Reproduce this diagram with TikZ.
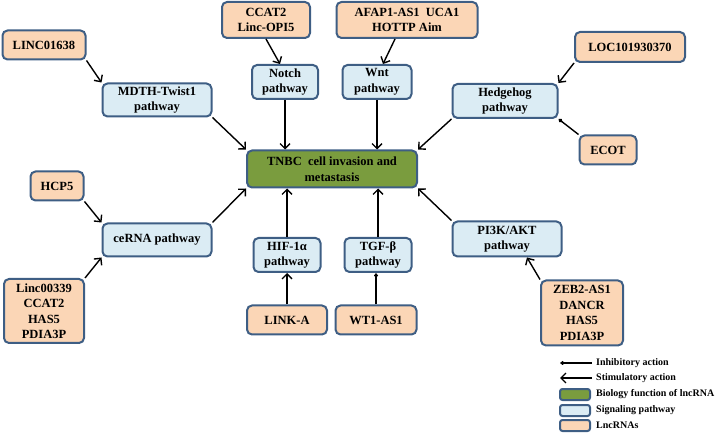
\documentclass[tikz,border=0pt]{standalone}
\usepackage{fontspec}
\setmainfont{Liberation Serif}
\usetikzlibrary{arrows.meta}

\definecolor{edgeblue}{RGB}{62,94,132}
\definecolor{lncorange}{RGB}{251,214,182}
\definecolor{pathblue}{RGB}{219,236,244}
\definecolor{biogreen}{RGB}{122,156,62}

\begin{document}
\begin{tikzpicture}[
            x=1pt, y=-1pt,
            box/.style={rectangle,rounded corners=5pt,draw=edgeblue,line width=2pt,align=center,inner sep=2pt,
                        font=\fontsize{12.5}{15.5}\selectfont\bfseries},
            lnc node/.style={box,fill=lncorange},
            path node/.style={box,fill=pathblue},
            bio node/.style={box,fill=biogreen},
            every edge/.style={draw,line width=1.4pt,-{Straight Barb[length=5pt,width=10pt,line width=1.4pt]}},
            inhib/.style={-{Diamond[length=5pt,width=4pt]}},
            key text/.style={anchor=west,inner sep=0pt,font=\fontsize{10}{12}\selectfont\bfseries},
        ]
            \useasboundingbox (0,0) rectangle (720,435);

            % centre
            \node[bio node, minimum width=170pt, minimum height=37pt] (tnbc) at (332,169) {TNBC\ \ cell invasion and\\metastasis};

            % signaling pathways
            \node[path node, minimum width=109pt, minimum height=33pt] (mdth) at (157,100) {MDTH-Twist1\\pathway};
            \node[path node, minimum width=66pt, minimum height=34pt] (notch) at (285,82) {Notch\\pathway};
            \node[path node, minimum width=69pt, minimum height=34pt] (wnt) at (377,82) {Wnt\\pathway};
            \node[path node, minimum width=105pt, minimum height=34pt] (hedgehog) at (505,101) {Hedgehog\\pathway};
            \node[path node, minimum width=109pt, minimum height=33pt] (cerna) at (157,240) {ceRNA pathway};
            \node[path node, minimum width=67pt, minimum height=34pt] (hif) at (287,255) {HIF-1α\\pathway};
            \node[path node, minimum width=67pt, minimum height=34pt] (tgf) at (378,255) {TGF-β\\pathway};
            \node[path node, minimum width=109pt, minimum height=35pt] (pi3k) at (507,239) {PI3K/AKT\\pathway};

            % lncRNAs
            \node[lnc node, minimum width=83pt, minimum height=29pt] (linc01638) at (44,45) {LINC01638};
            \node[lnc node, minimum width=88pt, minimum height=36pt] (ccat2) at (266,20) {CCAT2\\Linc-OPI5};
            \node[lnc node, minimum width=141pt, minimum height=36pt] (afap1) at (407,20) {AFAP1-AS1\ \ UCA1\\HOTTP Aim};
            \node[lnc node, minimum width=110pt, minimum height=30pt] (loc) at (630,47) {LOC101930370};
            \node[lnc node, minimum width=57pt, minimum height=29pt] (ecot) at (608,150) {ECOT};
            \node[lnc node, minimum width=53pt, minimum height=29pt] (hcp5) at (57,186) {HCP5};
            \node[lnc node, minimum width=80pt, minimum height=64pt] (linc00339) at (44,311) {Linc00339\\CCAT2\\HAS5\\PDIA3P};
            \node[lnc node, minimum width=80pt, minimum height=29pt] (linka) at (287,320) {LINK-A};
            \node[lnc node, minimum width=81pt, minimum height=29pt] (wt1) at (376,320) {WT1-AS1};
            \node[lnc node, minimum width=82pt, minimum height=65pt] (zeb2) at (582,313) {ZEB2-AS1\\DANCR\\HAS5\\PDIA3P};

            % lncRNA -> pathway
            \path (linc01638.south east) edge (mdth.north west);
            \path (ccat2.south) edge ([xshift=-5pt]notch.north);
            \path ([xshift=-12pt]afap1.south) edge ([xshift=6pt]wnt.north);
            \path (loc.south west) edge (hedgehog.north east);
            \path (ecot.north west) edge[inhib] (hedgehog.south east);
            \path (hcp5.south east) edge (cerna.north west);
            \path (linc00339.north east) edge (cerna.south west);
            \path (linka.north) edge (hif.south);
            \path (wt1.north) edge[inhib] (wt1.north |- tgf.south);
            \path (zeb2.north west) edge ([xshift=20pt]pi3k.south);

            % pathway -> TNBC
            \path (mdth.south east) edge (tnbc.north west);
            \path (notch.south) edge (notch.south |- tnbc.north);
            \path (wnt.south) edge (wnt.south |- tnbc.north);
            \path (hedgehog.south west) edge (tnbc.north east);
            \path (cerna.north east) edge (tnbc.south west);
            \path (hif.north) edge (hif.north |- tnbc.south);
            \path (tgf.north) edge (tgf.north |- tnbc.south);
            \path (pi3k.north west) edge (tnbc.south east);

            % key
            \coordinate (k1) at (592,363);
            \coordinate (k2) at (592,378);
            \path (k1) edge[inhib] ++(-32,0);
            \path (k2) edge ++(-32,0);
            \node[key text] (inhibtext) at (596,363) {Inhibitory action};
            \node[key text] (stimtext) at (596,378) {Stimulatory action};
            \draw[edgeblue, line width=2pt, fill=biogreen, rounded corners=2.5pt] (560,389) rectangle (590,400);
            \draw[edgeblue, line width=2pt, fill=pathblue, rounded corners=2.5pt] (560,405) rectangle (590,416);
            \draw[edgeblue, line width=2pt, fill=lncorange, rounded corners=2.5pt] (560,420) rectangle (590,431);
            \node[key text] (biotext) at (596,394.5) {Biology function of lncRNA};
            \node[key text] (pathtext) at (596,410.5) {Signaling pathway};
            \node[key text] (lnctext) at (596,425.5) {LncRNAs};
        \end{tikzpicture}
\end{document}
